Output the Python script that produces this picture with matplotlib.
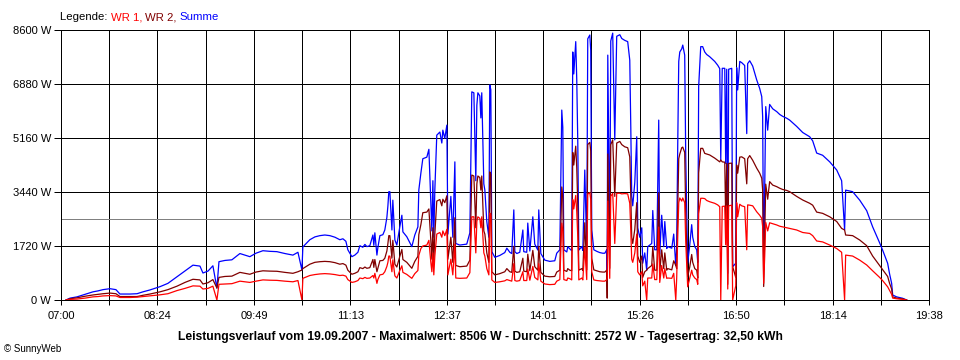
import numpy as np
import matplotlib
matplotlib.use('Agg')
import matplotlib.pyplot as plt
from matplotlib.ticker import FixedLocator, NullFormatter

# time of each reading, minutes after midnight
t_min = [
    424.4, 427.9, 434.0, 441.0, 447.9, 452.3, 456.7, 462.8, 468.0, 471.5,
    480.3, 486.4, 491.6, 497.7, 506.5, 513.4, 521.3, 528.3, 535.3, 541.4,
    544.0, 548.4, 552.7, 556.2, 558.0, 563.2, 569.3, 576.3, 585.0, 590.3,
    596.4, 602.5, 608.6, 615.6, 622.6, 627.0, 630.5, 631.3, 637.4, 641.8,
    646.2, 650.5, 654.9, 659.3, 663.6, 666.3, 668.9, 670.6, 674.1, 676.7,
    679.4, 681.1, 683.7, 685.5, 687.2, 689.8, 692.5, 693.3, 694.2, 696.0,
    696.8, 698.6, 701.2, 702.9, 704.7, 705.6, 706.4, 707.3, 709.1, 709.9,
    711.7, 713.4, 716.0, 717.8, 718.7, 722.1, 726.5, 729.1, 731.8, 732.6,
    734.4, 736.1, 739.6, 741.4, 743.1, 744.0, 744.9, 745.7, 746.6, 748.3,
    751.0, 752.7, 753.6, 755.3, 757.1, 758.0, 760.6, 762.3, 764.1, 764.9,
    768.4, 774.5, 777.2, 778.9, 780.7, 782.4, 783.3, 784.2, 785.9, 786.8,
    787.6, 789.4, 790.3, 792.0, 793.8, 794.6, 795.5, 796.4, 799.0, 803.4,
    807.7, 809.5, 812.1, 813.8, 815.6, 816.5, 818.2, 820.8, 823.5, 824.3,
    826.9, 827.8, 829.6, 832.2, 833.9, 836.6, 837.4, 839.2, 842.7, 847.0,
    851.4, 853.1, 855.8, 857.5, 858.4, 859.3, 861.9, 862.7, 864.5, 866.2,
    867.1, 868.0, 869.7, 870.6, 871.5, 872.4, 875.0, 875.9, 877.6, 879.3,
    880.2, 882.0, 882.8, 883.7, 885.5, 888.1, 890.7, 893.3, 895.1, 896.8,
    897.2, 897.7, 899.4, 900.3, 902.0, 903.8, 905.5, 908.2, 909.9, 912.5,
    915.1, 916.9, 917.8, 918.6, 919.5, 921.3, 923.0, 923.9, 925.6, 927.4,
    928.2, 930.0, 931.7, 932.6, 936.1, 937.0, 938.7, 940.5, 942.2, 943.1,
    944.8, 946.6, 947.5, 949.2, 950.1, 953.6, 955.3, 957.1, 957.9, 958.8,
    959.7, 960.6, 962.3, 963.2, 964.9, 965.8, 967.5, 969.3, 971.0, 971.9,
    973.7, 975.4, 976.3, 977.1, 978.9, 980.6, 982.4, 984.1, 986.7, 991.1,
    993.7, 995.5, 996.4, 997.7, 999.9, 1000.7, 1001.6, 1002.5, 1003.3, 1006.0,
    1006.8, 1009.5, 1010.3, 1011.2, 1013.0, 1014.7, 1017.3, 1019.1, 1019.9, 1021.7,
    1024.3, 1027.8, 1030.4, 1032.2, 1033.0, 1033.9, 1034.8, 1035.7, 1037.4, 1039.1,
    1041.8, 1045.3, 1047.9, 1050.5, 1054.0, 1056.6, 1062.7, 1068.0, 1074.1, 1076.7,
    1080.2, 1085.4, 1091.6, 1097.7, 1102.0, 1104.6, 1105.5, 1111.6, 1117.8, 1123.9,
    1129.1, 1135.2, 1137.8, 1142.2, 1143.9, 1145.7, 1146.6, 1150.0, 1155.3, 1158.8,
]

# WR 1 power in W
wr1 = [
    0, 20, 30, 60, 100, 110, 130, 140, 130, 80,
    80, 90, 110, 130, 165, 200, 300, 370, 450, 440,
    350, 370, 440, 0, 500, 510, 520, 600, 560, 600,
    640, 630, 625, 600, 580, 620, 0, 690, 780, 810,
    830, 840, 830, 810, 780, 790, 760, 650, 560, 580,
    620, 700, 680, 720, 690, 700, 780, 700, 850, 530,
    650, 800, 820, 900, 1070, 1200, 1400, 1400, 900, 1280,
    770, 700, 940, 1090, 880, 815, 690, 840, 940, 1420,
    1640, 1720, 1750, 1900, 1200, 900, 1500, 800, 1400, 2100,
    2150, 2000, 2200, 2050, 2250, 800, 1300, 800, 1780, 700,
    690, 700, 870, 2650, 2650, 1500, 2500, 2650, 2600, 2300,
    2650, 1500, 1400, 1000, 800, 2770, 2700, 640, 560, 580,
    610, 650, 620, 600, 1160, 620, 600, 620, 900, 620,
    620, 990, 630, 1070, 720, 640, 1160, 600, 510, 490,
    500, 600, 650, 2450, 2200, 650, 620, 700, 680, 640,
    3200, 2900, 3330, 2800, 2000, 640, 700, 640, 1680, 650,
    3370, 3420, 3200, 900, 640, 620, 610, 600, 600, 650,
    700, 3150, 690, 3300, 3400, 1800, 3400, 3400, 3380, 3390,
    3380, 3080, 2200, 1300, 1200, 1500, 2100, 900, 800, 900,
    450, 600, 0, 700, 700, 1150, 650, 650, 2320, 560,
    1100, 700, 1000, 690, 700, 690, 850, 0, 700, 2000,
    3100, 3250, 3150, 3250, 3100, 1850, 420, 700, 950, 800,
    700, 650, 500, 2750, 3240, 3240, 3230, 3170, 3130, 3080,
    3030, 2970, 0, 2980, 2990, 1760, 3000, 350, 3000, 3020,
    0, 450, 3100, 2650, 3050, 3000, 2970, 1600, 3030, 3020,
    3000, 2810, 2700, 2600, 2340, 530, 1400, 2470, 2200, 2460,
    2430, 2390, 2350, 2330, 2300, 2280, 2230, 2150, 2120, 2050,
    1880, 1850, 1750, 1640, 1520, 0, 1430, 1400, 1270, 1115,
    930, 720, 620, 420, 300, 180, 60, 40, 20, 0,
]

# WR 2 power in W
wr2 = [
    0, 40, 70, 120, 160, 180, 200, 220, 200, 110,
    110, 110, 150, 190, 260, 330, 440, 560, 660, 640,
    510, 550, 650, 380, 720, 750, 760, 880, 820, 890,
    930, 920, 915, 880, 850, 900, 955, 1000, 1140, 1200,
    1220, 1230, 1220, 1190, 1140, 1160, 1110, 950, 820, 850,
    900, 1030, 1000, 1050, 1010, 1030, 1290, 1040, 1290, 900,
    1010, 1250, 1260, 1330, 1560, 1800, 2050, 2050, 1330, 1900,
    1140, 1050, 1390, 1610, 1290, 1200, 1010, 1230, 1390, 2080,
    2400, 2780, 2800, 2900, 1900, 1300, 2300, 1200, 2100, 3150,
    3200, 3000, 3210, 3100, 3320, 1300, 2000, 1200, 2620, 1100,
    1060, 1080, 1270, 3980, 3950, 2300, 3700, 3950, 3900, 3500,
    3950, 2200, 2100, 1500, 1200, 4080, 4000, 900, 800, 840,
    900, 1000, 900, 880, 1710, 920, 880, 900, 1330, 920,
    900, 1460, 930, 1580, 1060, 950, 1710, 880, 760, 740,
    750, 890, 950, 3600, 3300, 950, 910, 1000, 950, 930,
    4700, 4300, 4900, 4200, 3000, 950, 1000, 940, 2460, 960,
    4950, 5020, 4750, 1330, 960, 930, 900, 890, 890, 950,
    60, 4650, 1010, 4950, 5100, 3300, 5000, 5050, 4950, 4880,
    4850, 4560, 3300, 2000, 1800, 2250, 3100, 1400, 1200, 1400,
    720, 900, 950, 1000, 1100, 1700, 950, 950, 3410, 900,
    1600, 1000, 1500, 950, 1000, 960, 1250, 1100, 1000, 2900,
    4500, 4650, 4850, 4870, 4700, 2700, 750, 1050, 1450, 1200,
    1000, 950, 700, 4050, 4830, 4830, 4670, 4650, 4620, 4520,
    4450, 4400, 4460, 4400, 4390, 2590, 4350, 500, 4350, 4360,
    1060, 720, 4300, 4040, 4550, 4560, 4500, 3700, 4500, 4600,
    4450, 4200, 4040, 3880, 3500, 430, 2100, 3690, 3210, 3770,
    3660, 3610, 3560, 3520, 3490, 3450, 3300, 3185, 3080, 3020,
    2800, 2760, 2650, 2500, 2280, 2230, 2070, 2050, 1910, 1730,
    1400, 1100, 970, 750, 530, 350, 100, 60, 35, 0,
]

y_ticks = [0, 1720, 3440, 5160, 6880, 8600]
x_labels = ['07:00', '08:24', '09:49', '11:13', '12:37',
            '14:01', '15:26', '16:50', '18:14', '19:38']
t_start, t_end = 420.0, 1178.33
avg_w = 2572
legend_parts = [('Legende: ', 'black'), ('WR 1, ', '#FF0000'),
                ('WR 2, ', '#800000'), ('Summe', '#0000FF')]
caption = ('Leistungsverlauf vom 19.09.2007 - Maximalwert: 8506 W - '
           'Durchschnitt: 2572 W - Tagesertrag: 32,50 kWh')

summe = np.array(wr1) + np.array(wr2)

plt.rcParams['font.family'] = ['Liberation Sans', 'DejaVu Sans']
px = 72 / 100  # one pixel in points

fig = plt.figure(figsize=(9.6, 3.6), dpi=100)
ax = fig.add_axes([61 / 960, 60 / 360, 868 / 960, 270 / 360])

ax.plot(t_min, summe, color='#0000FF', lw=0.9, zorder=3)
ax.plot(t_min, wr2, color='#800000', lw=0.9, zorder=4)
ax.plot(t_min, wr1, color='#FF0000', lw=0.9, zorder=5)
ax.axhline(avg_w, color='#808080', lw=px, zorder=2)

ax.set_xlim(t_start, t_end)
ax.set_ylim(0, 8600)

major_x = np.linspace(t_start, t_end, len(x_labels))
minor_x = (major_x[:-1] + major_x[1:]) / 2
ax.xaxis.set_major_locator(FixedLocator(major_x))
ax.xaxis.set_minor_locator(FixedLocator(minor_x))
ax.xaxis.set_minor_formatter(NullFormatter())
ax.set_xticklabels(x_labels)
ax.set_yticks(y_ticks)
ax.set_yticklabels([f'{v} W' for v in y_ticks])

ax.grid(which='both', axis='x', color='black', lw=px, zorder=1)
ax.grid(which='major', axis='y', color='black', lw=px, zorder=1)
ax.set_axisbelow(True)
for s in ax.spines.values():
    s.set_linewidth(px)
    s.set_color('black')

ax.tick_params(axis='x', which='both', direction='out', length=5 * px,
               width=px, labelsize=8, pad=4)
ax.tick_params(axis='y', direction='out', length=7 * px, width=px,
               labelsize=8, pad=2)

# legend line at the top left, coloured word by word
prev = None
for word, col in legend_parts:
    if prev is None:
        prev = fig.text(60 / 960, 1 - 17 / 360, word, fontsize=8.2,
                        color=col, va='center')
    else:
        prev = ax.annotate(word, xy=(1, 0), xycoords=prev, va='bottom',
                           ha='left', fontsize=8.2, color=col,
                           annotation_clip=False)

fig.text(480 / 960, 1 - 337 / 360, caption, fontsize=8.7, fontweight='bold',
         ha='center', va='center')
fig.text(4 / 960, 1 - 349 / 360, '\u00a9 SunnyWeb', fontsize=7, va='center')

fig.savefig('out.png', dpi=100)
